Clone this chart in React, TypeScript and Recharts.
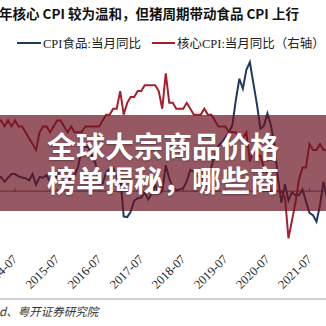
import { LineChart, Line, XAxis, YAxis, ReferenceLine } from "recharts"

const years = ["2014", "2015", "2016", "2017", "2018", "2019", "2020", "2021"]
const monthNums = ["01", "02", "03", "04", "05", "06", "07", "08", "09", "10", "11", "12"]
const months = years.flatMap((y) => monthNums.map((m) => `${y}-${m}`))

// CPI食品:当月同比 (%), left axis
const foodCpi = [
  3.7, 2.0, 2.4, 1.6, 2.3, 2.9, 2.9, 2.5, 2.3, 2.2, 1.8, 2.9,
  1.1, 2.4, 2.3, 2.7, 1.6, 1.5, 2.7, 3.7, 2.7, 1.9, 2.2, 2.7,
  4.1, 7.3, 7.6, 7.4, 5.9, 4.6, 1.3, 1.3, 3.2, 3.8, 4.0, 2.4,
  2.7, -4.3, -4.4, -3.5, -1.6, -1.2, -1.1, -0.2, -1.4, -0.4, 1.0, -0.4,
  0.0, 4.4, 2.1, 0.7, 0.1, 0.3, 0.5, 1.7, 3.6, 3.3, 2.5, 2.5,
  1.9, 0.7, 4.1, 6.1, 7.7, 8.3, 9.1, 10.0, 11.2, 15.5, 19.1, 17.4,
  20.6, 21.9, 18.3, 14.8, 10.6, 11.1, 13.2, 11.2, 7.9, 2.2, -2.0, 1.2,
  -1.6, -0.2, -0.7, -0.7, 0.3, -1.7, -3.7, -4.1, -5.2, -2.4, 1.6, -1.2,
]

// 核心CPI:当月同比 (%), right axis
const coreCpi = [
  1.7, 1.7, 1.7, 1.6, 1.7, 1.6, 1.7, 1.6, 1.6, 1.5, 1.4, 1.3,
  1.2, 1.5, 1.6, 1.6, 1.5, 1.6, 1.7, 1.7, 1.6, 1.5, 1.6, 1.5,
  1.5, 1.5, 1.6, 1.6, 1.6, 1.6, 1.6, 1.7, 1.8, 1.8, 1.9, 1.9,
  2.2, 1.8, 2.0, 2.1, 2.1, 2.2, 2.2, 2.3, 2.3, 2.3, 2.3, 2.2,
  1.9, 2.5, 2.0, 2.0, 1.9, 1.9, 1.9, 2.0, 1.9, 1.8, 1.8, 1.8,
  1.9, 1.8, 1.8, 1.7, 1.6, 1.6, 1.6, 1.5, 1.5, 1.5, 1.4, 1.4,
  1.5, 1.0, 1.2, 1.1, 1.1, 0.9, 0.8, 0.5, 0.5, 0.5, 0.5, 0.4,
  -0.3, 0.0, 0.3, 0.7, 0.9, 0.9, 1.3, 1.2, 1.2, 1.3, 1.2, 1.2,
]

const tickLabels = ["2014-07", "2015-07", "2016-07", "2017-07", "2018-07", "2019-07", "2020-07", "2021-07"]

const seriesNames = ["CPI食品:当月同比", "核心CPI:当月同比（右轴）"]
const seriesColors = ["#203864", "#a81e2c"]

const data = months.map((m, i) => ({ month: m, food: foodCpi[i], core: coreCpi[i] }))

function DateTick({ x, y, payload }: any) {
  return (
    <text
      x={x + 3}
      y={y + 10}
      transform={`rotate(-45 ${x + 3} ${y + 10})`}
      textAnchor="end"
      fontSize={12.5}
      fontFamily="'Liberation Serif', 'Noto Sans CJK SC', serif"
      fill="#222"
    >
      {payload.value}
    </text>
  )
}

export default function App() {
  return (
    <div style={{ position: "fixed", left: 0, top: 0, width: 326, height: 326, overflow: "hidden", background: "#fff" }}>
      {/* title, cut on the left like the source */}
      <div
        style={{
          position: "absolute", left: -1, top: 3, whiteSpace: "nowrap",
          fontFamily: "'Noto Sans CJK SC', sans-serif", fontWeight: 700, fontSize: 13.5, color: "#111",
        }}
      >
        年核心 CPI 较为温和，但猪周期带动食品 CPI 上行
      </div>

      {/* legend */}
      <div
        style={{
          position: "absolute", left: 17, top: 33, whiteSpace: "nowrap", display: "flex", alignItems: "center",
          fontFamily: "'Liberation Serif', 'Noto Sans CJK SC', serif", fontSize: 12.5, color: "#222",
        }}
      >
        <span style={{ display: "inline-block", width: 24, height: 2, background: seriesColors[0], marginRight: 2 }} />
        <span>{seriesNames[0]}</span>
        <span style={{ display: "inline-block", width: 23, height: 2, background: seriesColors[1], marginLeft: 11, marginRight: 2 }} />
        <span>{seriesNames[1]}</span>
      </div>

      <div style={{ position: "absolute", left: -6, top: 0 }}>
        <LineChart width={333} height={300} data={data} margin={{ top: 44, right: 0, bottom: 0, left: 0 }}>
          <XAxis
            dataKey="month"
            ticks={tickLabels}
            interval={0}
            height={50}
            axisLine={false}
            tickLine={false}
            tickSize={0}
            tickMargin={0}
            tick={<DateTick />}
          />
          <YAxis yAxisId="left" hide domain={[-10, 25]} allowDataOverflow />
          <YAxis yAxisId="right" orientation="right" hide domain={[-0.5, 3]} allowDataOverflow />
          <ReferenceLine yAxisId="left" y={0} stroke="#5a5a5a" strokeWidth={1} />
          {tickLabels.map((t) => (
            <ReferenceLine
              key={t}
              yAxisId="left"
              segment={[{ x: t, y: 0 }, { x: t, y: 0.5 }]}
              stroke="#5a5a5a"
              strokeWidth={1}
            />
          ))}
          <Line yAxisId="left" dataKey="food" stroke={seriesColors[0]} strokeWidth={2} dot={false} isAnimationActive={false} />
          <Line yAxisId="right" dataKey="core" stroke={seriesColors[1]} strokeWidth={2} dot={false} isAnimationActive={false} />
        </LineChart>
      </div>

      {/* bottom rule and source */}
      <div style={{ position: "absolute", left: 0, top: 298, width: 326, height: 1.5, background: "#cfcfcf" }} />
      <div
        style={{
          position: "absolute", left: -1, top: 303, whiteSpace: "nowrap", fontStyle: "italic",
          fontFamily: "'Noto Sans CJK SC', sans-serif", fontSize: 11.5, color: "#333",
        }}
      >
        d、粤开证券研究院
      </div>

      {/* headline banner over the chart */}
      <div style={{ position: "absolute", left: 0, top: 115, width: 326, height: 96, background: "rgba(105,19,34,0.7)" }} />
      <div
        style={{
          position: "absolute", left: 0, top: 128, width: 326, textAlign: "center", color: "#fff",
          fontFamily: "'Noto Sans CJK SC', sans-serif", fontWeight: 700, fontSize: 29, lineHeight: "34px",
          textShadow: "0 1px 2px rgba(0,0,0,0.35)",
        }}
      >
        <div>全球大宗商品价格</div>
        <div>榜单揭秘，哪些商</div>
      </div>
    </div>
  )
}
